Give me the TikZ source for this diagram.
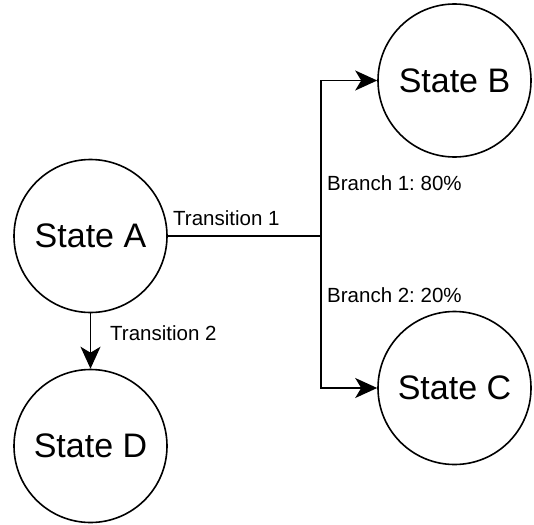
\documentclass[tikz,border=0pt]{standalone}
\usepackage{fontspec}
\setmainfont{Liberation Sans}
\usetikzlibrary{arrows.meta,positioning}
\frenchspacing

\begin{document}
\begin{tikzpicture}[x=1pt,y=-1pt,
  estado/.style={circle,draw,line width=1.6pt,minimum size=153pt,inner sep=0pt,
    font=\fontsize{34}{40}\selectfont},
  flecha/.style={line width=1.8pt,-{Stealth[length=22pt,width=20pt,inset=6pt]}},
  etiqueta/.style={font=\fontsize{20.5}{24}\selectfont,inner sep=0pt,anchor=west}]
  \useasboundingbox (0,0) rectangle (534,524);
  % Estados
  \node[estado] (stA) at (90.5,236) {State A};
  \node[estado] (stB) at (454.5,80.5) {State B};
  \node[estado] (stC) at (454.5,388) {State C};
  \node[estado] (stD) at (90.5,446) {State D};
  % Bifurcacion
  \coordinate (fork) at (321,236);
  \draw[flecha] (stA) -- (fork) |- (stB);
  \draw[flecha] (fork) |- (stC);
  \draw[flecha] (stA) -- (stD);
  % Etiquetas
  \node[etiqueta] (lblT1) at (173,218) {Transition 1};
  \node[etiqueta] (lblB1) at (327,183) {Branch 1: 80\%};
  \node[etiqueta] (lblB2) at (327,295) {Branch 2: 20\%};
  \node[etiqueta] (lblT2) at (110,333) {Transition 2};
\end{tikzpicture}
\end{document}
